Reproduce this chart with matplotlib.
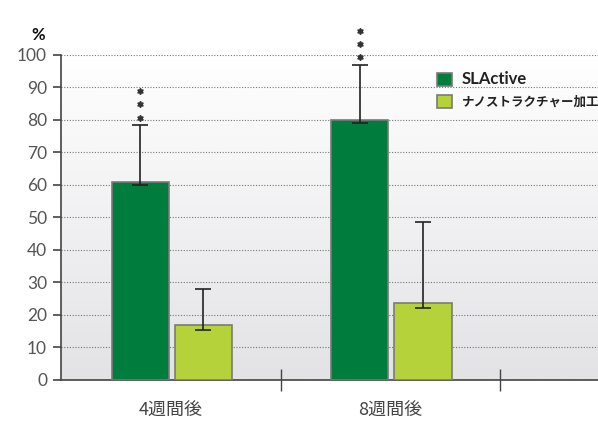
import numpy as np
import matplotlib
matplotlib.use('Agg')
import matplotlib.pyplot as plt

plt.rcParams['font.family'] = ['Lato', 'Noto Sans CJK JP', 'DejaVu Sans']

# data
groups = ['4週間後', '8週間後']
series = ['SLActive', 'ナノストラクチャー加工']
slactive = [61, 80]
slactive_lo = [60, 79]
slactive_hi = [78.5, 97]
nano = [17, 23.7]
nano_lo = [15.5, 22]
nano_hi = [28, 48.5]
star_y = [[80.6, 84.8, 88.9], [99.4, 103.3, 107.4]]
yticks = [0, 10, 20, 30, 40, 50, 60, 70, 80, 90, 100]

dark = '#007c3d'
light = '#b5d23a'
edge = '#7a7a7a'
jp = ['Noto Sans CJK JP', 'DejaVu Sans']

fig = plt.figure(figsize=(5.98, 4.23), dpi=100)
ax = fig.add_axes([0.102, 0.1017, 0.898, 0.7683])

xc = np.arange(len(groups)) + 0.5
w = 0.26
x_dark = xc - 0.139
x_light = xc + 0.148

# background gradient
grad = np.linspace(0, 1, 256).reshape(-1, 1)
cmap = matplotlib.colors.LinearSegmentedColormap.from_list('bg', ['#e3e3e6', '#ffffff'])
ax.imshow(grad, extent=[0, 2.445, 0, 100], origin='lower', aspect='auto',
          cmap=cmap, zorder=0)

ax.bar(x_dark, slactive, w, color=dark, edgecolor=edge, linewidth=1.2,
       zorder=3, label=series[0])
ax.bar(x_light, nano, w, color=light, edgecolor=edge, linewidth=1.2,
       zorder=3, label=series[1])

ax.errorbar(x_dark, slactive,
            yerr=[np.subtract(slactive, slactive_lo), np.subtract(slactive_hi, slactive)],
            fmt='none', ecolor='#222222', elinewidth=1.2, capsize=5.5, capthick=1.2, zorder=4)
ax.errorbar(x_light, nano,
            yerr=[np.subtract(nano, nano_lo), np.subtract(nano_hi, nano)],
            fmt='none', ecolor='#222222', elinewidth=1.2, capsize=5.5, capthick=1.2, zorder=4)

for i, ys in enumerate(star_y):
    ax.plot([x_dark[i]] * len(ys), ys, ls='none', marker=(6, 1, 0), ms=4.5,
            color='#333333', clip_on=False, zorder=5)

ax.set_xlim(0, 2.445)
ax.set_ylim(0, 100)
ax.set_yticks(yticks)
ax.yaxis.grid(True, linestyle=(0, (1, 1.5)), color='#777777', linewidth=0.8)
for gl in ax.get_ygridlines():
    gl.set_zorder(1)

ax.set_xticks([1, 2])
ax.set_xticklabels([])
ax.set_xticks(xc, minor=True)
ax.set_xticklabels(groups, minor=True, fontsize=13, color='#444444', family=jp)
ax.tick_params(axis='x', which='major', direction='inout', length=16, width=1, color='#444444')
ax.tick_params(axis='x', which='minor', length=0, pad=16)
ax.tick_params(axis='y', direction='out', length=6, width=1.2, color='#444444',
               labelsize=12.5, labelcolor='#555555', pad=4)

for s in ['top', 'right']:
    ax.spines[s].set_visible(False)
ax.spines['left'].set_color('#444444')
ax.spines['left'].set_linewidth(1.2)
ax.spines['bottom'].set_color('#444444')
ax.spines['bottom'].set_linewidth(1.2)

fig.text(0.0635, 0.917, '%', fontsize=12, fontweight='bold', color='#111111',
         ha='center', va='center')

leg = ax.legend(loc='upper left', bbox_to_anchor=(0.68, 0.985), frameon=False,
                handlelength=1.2, handleheight=1.2, handletextpad=0.75, labelspacing=0.65,
                prop={'family': jp, 'weight': 'bold', 'size': 9})
texts = leg.get_texts()
texts[0].set_fontfamily(['Lato', 'DejaVu Sans'])
texts[0].set_fontsize(12)
for t in texts:
    t.set_color('#222222')

fig.savefig('out.png', dpi=100)
